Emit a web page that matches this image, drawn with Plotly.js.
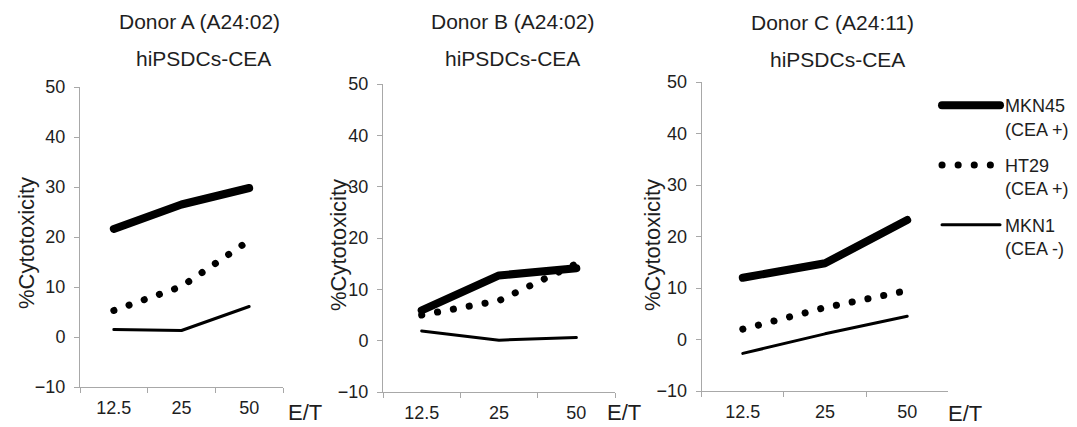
<!DOCTYPE html>
<html>
<head>
<meta charset="utf-8">
<script src="https://cdn.plot.ly/plotly-3.0.1.min.js"></script>
<style>
  html, body { margin: 0; padding: 0; background: #fff; }
  #chart { width: 1077px; height: 427px; }
  path.js-line { stroke-linecap: round !important; stroke-linejoin: round !important; }
</style>
</head>
<body>
<div id="chart"></div>
<script>
// ---- Data ----
const categories = ['12.5', '25', '50'];          // E/T ratio
const seriesNames = ['MKN45<br>(CEA +)', 'HT29<br>(CEA +)', 'MKN1<br>(CEA -)'];

// Donor A (A24:02)
const donorA_MKN45 = [21.6, 26.5, 29.8];
const donorA_HT29  = [5.3, 10.1, 19.3];
const donorA_MKN1  = [1.5, 1.3, 6.1];

// Donor B (A24:02)
const donorB_MKN45 = [5.9, 12.7, 14.1];
const donorB_HT29  = [5.0, 7.8, 15.0];
const donorB_MKN1  = [1.9, 0.1, 0.6];

// Donor C (A24:11)
const donorC_MKN45 = [12.0, 14.8, 23.2];
const donorC_HT29  = [2.0, 6.2, 9.5];
const donorC_MKN1  = [-2.7, 1.1, 4.5];

const panelTitles = ['Donor A (A24:02)', 'Donor B (A24:02)', 'Donor C (A24:11)'];
const panelSubtitle = 'hiPSDCs-CEA';
const yTitle = '%Cytotoxicity';
const xTitle = 'E/T';
const yTickVals = [-10, 0, 10, 20, 30, 40, 50];

// ---- Styles ----
const FONT = 'Liberation Sans, Arial, Helvetica, sans-serif';
const TXT = '#1e1e1e';
const AXC = '#a8a8a8';
const W = 1077, H = 427;
const lineStyles = [
  {color: '#000', width: 8, dash: 'solid'},
  {color: '#000', width: 7, dash: '0.1px,16px'},
  {color: '#000', width: 3, dash: 'solid'}
];

const panels = [
  {data: [donorA_MKN45, donorA_HT29, donorA_MKN1], xs: 'x',  ys: 'y',  px: [80, 283],     py: [87, 387]},
  {data: [donorB_MKN45, donorB_HT29, donorB_MKN1], xs: 'x2', ys: 'y2', px: [383, 615],    py: [84, 392]},
  {data: [donorC_MKN45, donorC_HT29, donorC_MKN1], xs: 'x3', ys: 'y3', px: [701.7, 948.3], py: [82, 391]}
];

const traces = [];
panels.forEach((p, pi) => {
  p.data.forEach((vals, si) => {
    traces.push({
      type: 'scatter', mode: 'lines',
      x: categories, y: vals,
      xaxis: p.xs, yaxis: p.ys,
      name: seriesNames[si],
      legendgroup: 'g' + si,
      showlegend: pi === 0,
      line: {color: lineStyles[si].color, width: lineStyles[si].width, dash: lineStyles[si].dash},
      hoverinfo: 'skip'
    });
  });
});

const layout = {
  width: W, height: H,
  margin: {l: 0, r: 0, t: 0, b: 0},
  paper_bgcolor: '#fff', plot_bgcolor: 'rgba(0,0,0,0)',
  font: {family: FONT, color: TXT, size: 18},
  showlegend: true,
  legend: {
    x: 937 / W, xanchor: 'left',
    y: 1 - 87 / H, yanchor: 'top',
    font: {family: FONT, size: 18, color: TXT},
    itemwidth: 58,
    valign: 'top',
    tracegroupgap: 10,
    bgcolor: 'rgba(0,0,0,0)',
    borderwidth: 0
  },
  annotations: []
};

panels.forEach((p, pi) => {
  const sfx = pi === 0 ? '' : String(pi + 1);
  const yName = 'y' + sfx;
  layout['xaxis' + sfx] = {
    type: 'category', domain: [p.px[0] / W, p.px[1] / W], anchor: yName,
    range: [-0.5, 2.5], tickson: 'boundaries', ticks: 'outside', ticklen: 5,
    tickcolor: AXC, tickwidth: 1, showline: true, linecolor: AXC, linewidth: 1,
    showgrid: false, zeroline: false, fixedrange: true,
    tickfont: {family: FONT, size: 18, color: TXT}, ticklabelstandoff: 4
  };
  layout['yaxis' + sfx] = {
    domain: [1 - p.py[1] / H, 1 - p.py[0] / H], anchor: 'x' + sfx,
    range: [-10, 50], tickvals: yTickVals, ticks: 'outside', ticklen: 5,
    tickcolor: AXC, tickwidth: 1, showline: true, linecolor: AXC, linewidth: 1,
    showgrid: false, zeroline: false, fixedrange: true,
    tickfont: {family: FONT, size: 18, color: TXT}, ticklabelstandoff: 5
  };
});

// Panel titles, y-axis titles, x-axis labels (positions in page pixels)
const titlePos = [[199, 21], [512, 21], [832, 23]];
const subPos   = [[203, 58], [512, 58], [838, 60]];
const yTitlePos = [[27, 243], [338, 245], [652, 245]];
const xTitlePos = [[305, 412], [624, 412], [965, 413]];
function ann(text, xy, size, extra) {
  return Object.assign({
    text: text, xref: 'paper', yref: 'paper',
    x: xy[0] / W, y: 1 - xy[1] / H, xanchor: 'center', yanchor: 'middle',
    showarrow: false, font: {family: FONT, size: size, color: TXT}
  }, extra || {});
}
for (let i = 0; i < 3; i++) {
  layout.annotations.push(ann(panelTitles[i], titlePos[i], 21));
  layout.annotations.push(ann(panelSubtitle, subPos[i], 21));
  layout.annotations.push(ann(yTitle, yTitlePos[i], 22, {textangle: -90}));
  layout.annotations.push(ann(xTitle, xTitlePos[i], 22));
}

Plotly.newPlot('chart', traces, layout, {staticPlot: true, displayModeBar: false});
</script>
</body>
</html>
